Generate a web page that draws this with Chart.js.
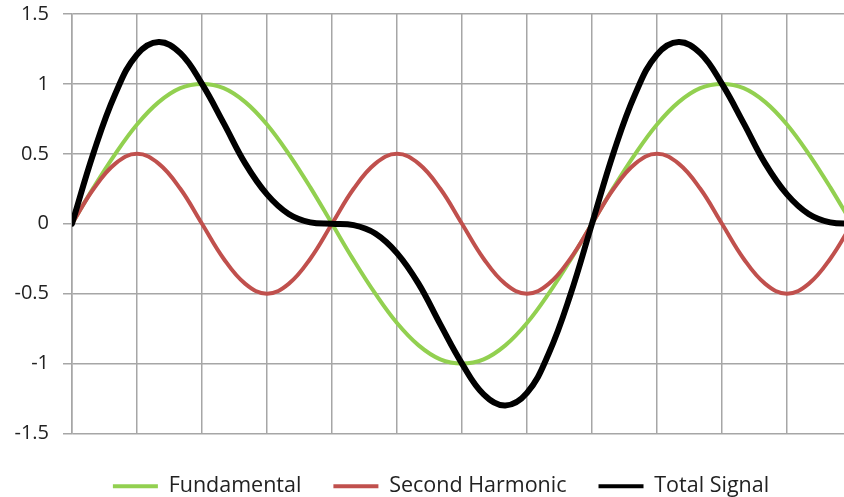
<!DOCTYPE html>
<html>
<head>
<meta charset="utf-8">
<script src="https://cdn.jsdelivr.net/npm/chart.js@4/dist/chart.umd.min.js"></script>
<style>
  html, body { margin: 0; padding: 0; background: #fff; overflow: hidden; }
  /* the original chart is a bit wider than the window; the right edge is cut off */
  #wrap { width: 882px; height: 497px; }
</style>
</head>
<body>
<div id="wrap"><canvas id="chart"></canvas></div>
<script>
// phase angle (degrees) of each sample
const angles = [0, 15, 30, 45, 60, 75, 90, 105, 120, 135, 150, 165, 180, 195, 210, 225, 240, 255, 270,
  285, 300, 315, 330, 345, 360, 375, 390, 405, 420, 435, 450, 465, 480, 495, 510, 525, 540, 555, 570];

const fundamental = [0, 0.26, 0.5, 0.71, 0.87, 0.97, 1, 0.97, 0.87, 0.71, 0.5, 0.26, 0, -0.26, -0.5, -0.71, -0.87, -0.97, -1,
  -0.97, -0.87, -0.71, -0.5, -0.26, 0, 0.26, 0.5, 0.71, 0.87, 0.97, 1, 0.97, 0.87, 0.71, 0.5, 0.26, 0, -0.26, -0.5];

const secondHarmonic = [0, 0.25, 0.43, 0.5, 0.43, 0.25, 0, -0.25, -0.43, -0.5, -0.43, -0.25, 0, 0.25, 0.43, 0.5, 0.43, 0.25, 0,
  -0.25, -0.43, -0.5, -0.43, -0.25, 0, 0.25, 0.43, 0.5, 0.43, 0.25, 0, -0.25, -0.43, -0.5, -0.43, -0.25, 0, 0.25, 0.43];

const totalSignal = [0, 0.51, 0.93, 1.21, 1.3, 1.22, 1, 0.72, 0.43, 0.21, 0.07, 0.01, 0, -0.01, -0.07, -0.21, -0.43, -0.72, -1,
  -1.22, -1.3, -1.21, -0.93, -0.51, 0, 0.51, 0.93, 1.21, 1.3, 1.22, 1, 0.72, 0.43, 0.21, 0.07, 0.01, 0, -0.01, -0.07];

const gridAngles = [0, 45, 90, 135, 180, 225, 270, 315, 360, 405, 450, 495, 540];
const yTicks = [-1.5, -1, -0.5, 0, 0.5, 1, 1.5];

const pts = arr => arr.map((v, i) => ({ x: angles[i], y: v }));
const gridColor = '#a6a6a6';
const family = "'Open Sans', sans-serif";

new Chart(document.getElementById('chart'), {
  type: 'line',
  data: {
    datasets: [
      { label: 'Fundamental', data: pts(fundamental), borderColor: '#92d050', backgroundColor: '#92d050', borderWidth: 4, order: 2 },
      { label: 'Second Harmonic', data: pts(secondHarmonic), borderColor: '#c0504d', backgroundColor: '#c0504d', borderWidth: 4, order: 1 },
      { label: 'Total Signal', data: pts(totalSignal), borderColor: '#000000', backgroundColor: '#000000', borderWidth: 6, order: 0 }
    ]
  },
  options: {
    responsive: true,
    maintainAspectRatio: false,
    animation: false,
    layout: { padding: { top: 14, right: 0, left: 0, bottom: -10 } },
    elements: { point: { radius: 0 }, line: { tension: 0.4, borderCapStyle: 'round' } },
    scales: {
      x: {
        type: 'linear',
        min: 0,
        max: 560.8,
        afterBuildTicks: s => { s.ticks = gridAngles.map(v => ({ value: v })); },
        afterFit: s => { s.height = 10; },
        ticks: { display: false },
        grid: { color: gridColor, lineWidth: 1.5, drawTicks: false },
        border: { display: false }
      },
      y: {
        min: -1.5,
        max: 1.5,
        afterBuildTicks: s => { s.ticks = yTicks.map(v => ({ value: v })); },
        afterFit: s => { s.width = 72; s.paddingTop = 0; },
        ticks: { color: '#222', font: { family, size: 20 }, padding: 14, callback: v => String(v) },
        grid: { color: gridColor, lineWidth: 1.5, tickLength: 9 },
        border: { color: gridColor, width: 1.5 }
      }
    },
    plugins: {
      tooltip: { enabled: false },
      legend: {
        position: 'bottom',
        labels: {
          color: '#222',
          font: { family, size: 21.5 },
          boxWidth: 45,
          boxHeight: 4,
          padding: 32,
          sort: (a, b) => a.datasetIndex - b.datasetIndex,
          generateLabels: chart => Chart.defaults.plugins.legend.labels.generateLabels(chart)
            .map(item => Object.assign(item, { lineWidth: 0 }))
        }
      }
    }
  }
});
</script>
</body>
</html>
